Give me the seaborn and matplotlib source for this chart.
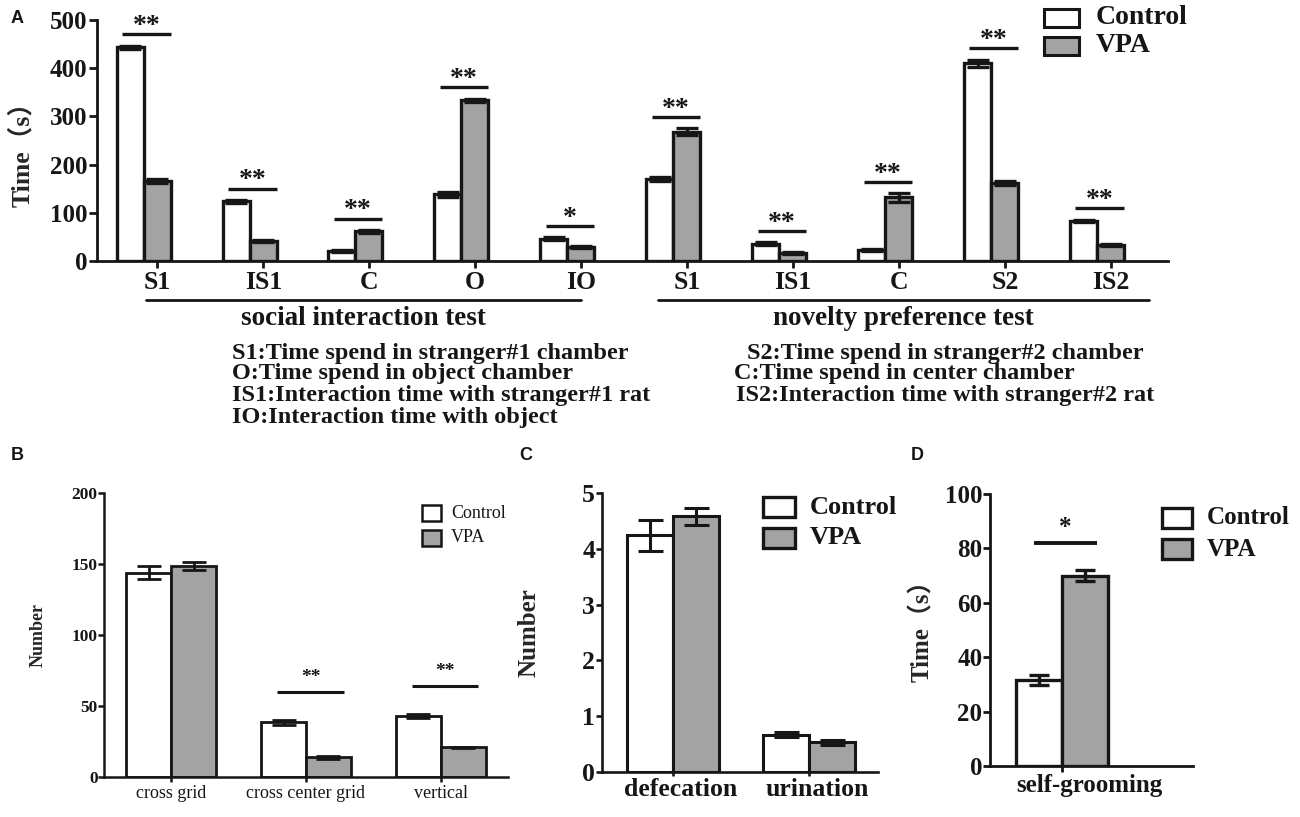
import numpy as np
import pandas as pd
import matplotlib
matplotlib.use("Agg")
import matplotlib.pyplot as plt
import seaborn as sns
from matplotlib.patches import Rectangle
from matplotlib.transforms import blended_transform_factory, ScaledTranslation

# ---- data ----
# A: social interaction test (first 5) + novelty preference test (last 5)
a_labels = ["S1", "IS1", "C", "O", "IO", "S1", "IS1", "C", "S2", "IS2"]
a_control = [443, 124, 21, 138, 46, 170, 36, 23, 410, 83]
a_control_err = [4, 3, 2, 5, 3, 5, 3, 2, 8, 3]
a_vpa = [166, 42, 62, 333, 30, 268, 16, 132, 162, 33]
a_vpa_err = [4, 2, 3, 4, 2, 7, 2, 9, 5, 2]
a_stars = ["**", "**", "**", "**", "*", "**", "**", "**", "**", "**"]
a_groups = ["social interaction test", "novelty preference test"]
a_group_members = [(0, 4), (5, 9)]

# B: open field
b_labels = ["cross grid", "cross center grid", "vertical"]
b_control = [143.8, 38.4, 42.9]
b_control_err = [4.5, 1.5, 1.2]
b_vpa = [148.7, 13.8, 20.8]
b_vpa_err = [2.8, 0.8, 0.6]
b_stars = ["", "**", "**"]

# C: defecation / urination
c_labels = ["defecation", "urination"]
c_control = [4.24, 0.67]
c_control_err = [0.28, 0.04]
c_vpa = [4.58, 0.53]
c_vpa_err = [0.16, 0.04]

# D: self-grooming
d_labels = ["self-grooming"]
d_control = [31.6]
d_control_err = [1.9]
d_vpa = [69.9]
d_vpa_err = [2.0]
d_stars = ["*"]

notes_left = ["S1:Time spend in stranger#1 chamber",
              "O:Time spend in object chamber",
              "IS1:Interaction time with stranger#1 rat",
              "IO:Interaction time with object"]
notes_right = ["S2:Time spend in stranger#2 chamber",
               "C:Time spend in center chamber",
               "IS2:Interaction time with stranger#2 rat"]

groups = ["Control", "VPA"]
palette = {"Control": "white", "VPA": "#a3a3a3"}
EDGE = "#161616"

sns.set_style("ticks")
plt.rcParams["font.family"] = ["Liberation Serif", "Noto Sans CJK SC", "DejaVu Sans"]
plt.rcParams["font.weight"] = "bold"
plt.rcParams["axes.labelweight"] = "bold"

W, H = 1300, 817
fig = plt.figure(figsize=(13, 8.17), dpi=100)


def px_axes(l, t, r, b):
    return fig.add_axes([l / W, 1 - b / H, (r - l) / W, (b - t) / H])


def ftext(x, y, s, **kw):
    return fig.text(x / W, 1 - y / H, s, **kw)


def key(x, y, w, h, color, lw, label, tx, size, weight="bold"):
    fig.add_artist(Rectangle((x / W, 1 - (y + h) / H), w / W, h / H,
                             transform=fig.transFigure, facecolor=color,
                             edgecolor=EDGE, lw=lw))
    ftext(tx, y + h / 2, label, fontsize=size, fontweight=weight,
          va="center", ha="left", color=EDGE)


def draw_bars(ax, cats, control, c_err, vpa, v_err, width, lw, cap):
    df = pd.DataFrame({"cat": list(cats) * 2,
                       "group": ["Control"] * len(cats) + ["VPA"] * len(cats),
                       "value": list(control) + list(vpa)})
    sns.barplot(data=df, x="cat", y="value", hue="group", order=list(cats),
                hue_order=groups, palette=palette, width=width, errorbar=None,
                edgecolor=EDGE, linewidth=lw, legend=False, ax=ax)
    bar_sets = [sorted(c.patches, key=lambda p: p.get_x()) for c in ax.containers[:2]]
    for bars, err in zip(bar_sets, [c_err, v_err]):
        xs = [p.get_x() + p.get_width() / 2 for p in bars]
        hs = [p.get_height() for p in bars]
        ax.errorbar(xs, hs, yerr=err, fmt="none", ecolor=EDGE, elinewidth=lw,
                    capsize=cap, capthick=lw, zorder=3)
    return bar_sets


def add_sig(ax, bar_sets, errs, stars, gap, lo, hi, lw, size, dy):
    for pc, pv, ec, ev, s in zip(bar_sets[0], bar_sets[1], errs[0], errs[1], stars):
        if not s:
            continue
        top = max(pc.get_height() + ec, pv.get_height() + ev) + gap
        w = pc.get_width()
        x0 = pc.get_x() + lo * w
        x1 = pv.get_x() + w - hi * w
        ax.plot([x0, x1], [top, top], color=EDGE, lw=lw, solid_capstyle="butt")
        ax.annotate(s, ((x0 + x1) / 2, top), xytext=(0, dy), textcoords="offset points",
                    ha="center", va="baseline", fontsize=size, fontweight="bold", color=EDGE)


def style_axis(ax, lw, tick_len, tick_size, ylim, step):
    ax.set_ylim(*ylim)
    ax.set_yticks(np.arange(ylim[0], ylim[1] + step / 2, step))
    for side in ["left", "bottom"]:
        ax.spines[side].set_linewidth(lw)
        ax.spines[side].set_color(EDGE)
    ax.tick_params(axis="both", width=lw, length=tick_len, color=EDGE,
                   labelsize=tick_size, labelcolor=EDGE)
    ax.set_xlabel("")


# ---------------- panel A ----------------
ax_a = px_axes(97, 20, 1168, 261)
a_pos = list(range(len(a_labels)))
bars_a = draw_bars(ax_a, a_pos, a_control, a_control_err, a_vpa, a_vpa_err,
                   width=0.51, lw=2.4, cap=8)
add_sig(ax_a, bars_a, [a_control_err, a_vpa_err], a_stars, gap=23, lo=0.2, hi=0.0,
        lw=2.4, size=20, dy=1)
style_axis(ax_a, 2.0, 6, 18, (0, 500), 100)
ax_a.set_xlim(-0.44, 9.67)
ax_a.set_xticks(np.array(a_pos) + 0.13, a_labels)
ax_a.tick_params(axis="x", length=5, pad=2, labelsize=18.5)
ax_a.tick_params(axis="y", pad=1)
ax_a.set_ylabel("Time（s）", fontsize=18.5, va="center")
ax_a.yaxis.set_label_coords(-0.07, 0.47)

trans = blended_transform_factory(ax_a.transData, ax_a.transAxes)
for name, (i0, i1), pad in zip(a_groups, a_group_members, [(-0.11, 0.0), (-0.27, 0.36)]):
    x0 = a_pos[i0] + 0.13 + pad[0]
    x1 = a_pos[i1] + 0.13 + pad[1]
    ax_a.plot([x0, x1], [-0.162, -0.162], transform=trans, color=EDGE, lw=2.0, clip_on=False)
    ax_a.text((x0 + x1) / 2, -0.24, name, transform=trans, ha="center", va="center",
              fontsize=19.5, fontweight="bold", color=EDGE)

for note, y in zip(notes_left, [353, 374, 396, 418]):
    ftext(232, y, note, fontsize=17.5, va="center", ha="left", color=EDGE)
for note, x, y in zip(notes_right, [747, 734, 736], [353, 374, 396]):
    ftext(x, y, note, fontsize=17.5, va="center", ha="left", color=EDGE)

key(1044, 9, 35, 18, palette["Control"], 2.2, "Control", 1096, 20)
key(1044, 37, 35, 18, palette["VPA"], 2.2, "VPA", 1096, 20)

# ---------------- panel B ----------------
ax_b = px_axes(104, 493, 508, 777)
bars_b = draw_bars(ax_b, b_labels, b_control, b_control_err, b_vpa, b_vpa_err,
                   width=0.667, lw=2.0, cap=8.5)
add_sig(ax_b, bars_b, [b_control_err, b_vpa_err], b_stars, gap=20, lo=0.36, hi=0.16,
        lw=2.2, size=14, dy=7)
style_axis(ax_b, 1.8, 4, 12.5, (0, 200), 50)
ax_b.set_xlim(-0.5, 2.5)
ax_b.tick_params(axis="x", length=3.5, pad=2)
ax_b.tick_params(axis="y", pad=0.5)
for lab in ax_b.get_xticklabels():
    lab.set_fontweight("normal")
    lab.set_fontsize(13)
ax_b.set_ylabel("Number", fontsize=13, va="center")
ax_b.yaxis.set_label_coords((38 - 104) / 404, 0.5)
key(422, 505, 19, 16, palette["Control"], 1.8, "Control", 451, 13, "normal")
key(422, 530, 19, 16, palette["VPA"], 1.8, "VPA", 451, 13, "normal")

# ---------------- panel C ----------------
ax_c = px_axes(602, 493, 878, 772)
bars_c = draw_bars(ax_c, c_labels, c_control, c_control_err, c_vpa, c_vpa_err,
                   width=0.68, lw=2.2, cap=9)
style_axis(ax_c, 1.9, 4, 18.5, (0, 5), 1)
ax_c.set_xlim(-0.522, 1.507)
ax_c.tick_params(axis="x", length=3, pad=1.5)
ax_c.tick_params(axis="y", pad=1)
for lab in ax_c.get_xticklabels():
    lab.set_transform(lab.get_transform() + ScaledTranslation(8 / 100, 0, fig.dpi_scale_trans))
ax_c.set_ylabel("Number", fontsize=18, va="center")
ax_c.yaxis.set_label_coords((529 - 602) / 276, 0.5)
key(763, 497, 32, 20, palette["Control"], 2.4, "Control", 810, 19)
key(763, 528, 32, 20, palette["VPA"], 2.4, "VPA", 810, 19)

# ---------------- panel D ----------------
ax_d = px_axes(990, 494, 1193, 766)
bars_d = draw_bars(ax_d, d_labels, d_control, d_control_err, d_vpa, d_vpa_err,
                   width=0.68, lw=2.4, cap=7.5)
add_sig(ax_d, bars_d, [d_control_err, d_vpa_err], d_stars, gap=10, lo=0.39, hi=0.24,
        lw=2.8, size=18, dy=7)
style_axis(ax_d, 2.0, 5, 18, (0, 100), 20)
ax_d.set_xlim(-0.53, 0.963)
ax_d.tick_params(axis="x", length=4, pad=2)
ax_d.tick_params(axis="y", pad=0.5)
for lab in ax_d.get_xticklabels():
    lab.set_transform(lab.get_transform() + ScaledTranslation(27 / 100, 0, fig.dpi_scale_trans))
ax_d.set_ylabel("Time（s）", fontsize=18, va="center")
ax_d.yaxis.set_label_coords((922 - 990) / 203, 0.52)
key(1162, 508, 30, 20, palette["Control"], 2.4, "Control", 1207, 18)
key(1162, 539, 30, 20, palette["VPA"], 2.4, "VPA", 1207, 18)

sns.despine(fig=fig)

# panel letters
for letter, x, y in [("A", 11, 10), ("B", 11, 447), ("C", 519, 447), ("D", 911, 447)]:
    ftext(x, y, letter, fontsize=13, family="Liberation Sans", fontweight="bold",
          va="top", ha="left", color=EDGE)

fig.savefig("out.png", dpi=100, facecolor="white")
